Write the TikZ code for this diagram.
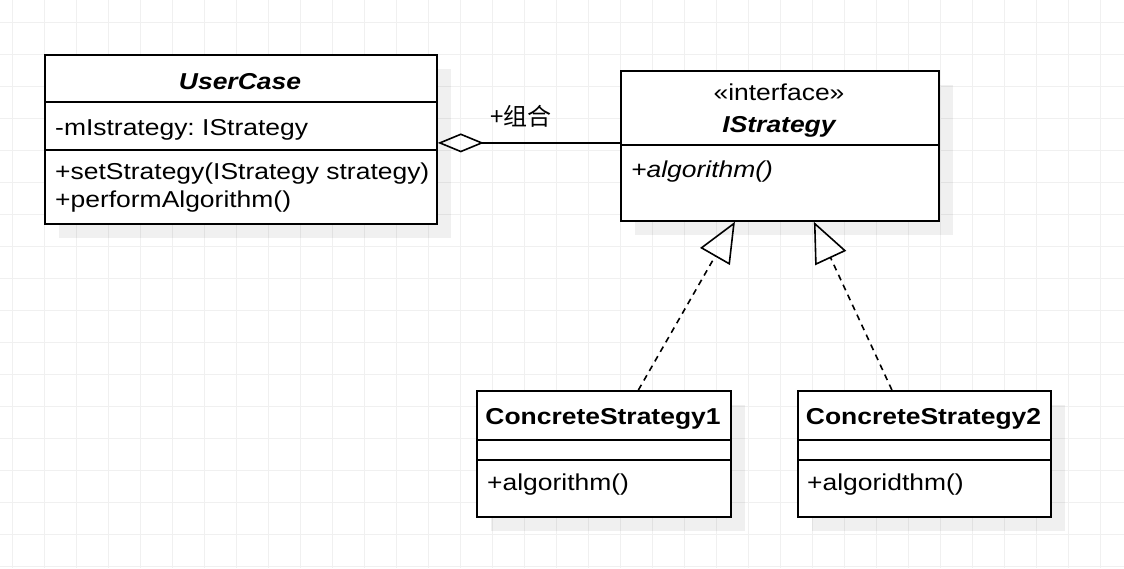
\documentclass[tikz,border=0pt]{standalone}
\usepackage{fontspec}
\setmainfont{Liberation Sans}[FakeStretch=1.15]
\newfontfamily\cjk{Noto Sans CJK SC}
\usetikzlibrary{
    arrows.meta,
    shadows,
    positioning
}
\frenchspacing
\newcommand{\umlfont}{\fontsize{23}{28}\selectfont}
\tikzset{umlbox/.style={draw=black, line width=1.8pt, fill=white, anchor=north west, inner sep=0pt, drop shadow={shadow xshift=14pt, shadow yshift=-14pt, fill=black, opacity=0.06}}}
\tikzset{umltxt/.style={inner sep=0pt, anchor=base west, font=\umlfont}}
\tikzset{umlital/.style={inner sep=0pt, anchor=base west, font=\umlfont\itshape}}
\tikzset{umlname/.style={inner sep=0pt, anchor=base, font=\umlfont\bfseries}}
\tikzset{umlabstract/.style={inner sep=0pt, anchor=base, font=\umlfont\bfseries\itshape}}
\tikzset{realize/.style={line width=1.6pt, dash pattern=on 6pt off 5pt, -{Triangle[open, length=40pt, width=34pt]}}}
\tikzset{aggregate/.style={line width=1.6pt, -{Diamond[open, length=46pt, width=19pt]}}}

\begin{document}
\begin{tikzpicture}[x=1pt, y=-1pt]
                        \fill[white] (0,0) rectangle (1124,568);
                        \useasboundingbox (0,0) rectangle (1124,568);
                        \foreach \gx in {12,44,...,1124}
                            \draw[black!6, line width=0.8pt] (\gx,0) -- (\gx,568);
                        \foreach \gy in {22,54,...,568}
                            \draw[black!6, line width=0.8pt] (0,\gy) -- (1124,\gy);
                        % classes
                        \node[umlbox, minimum width=392pt, minimum height=169pt] (ucase) at (44,54) {};
                        \node[umlbox, minimum width=318pt, minimum height=150pt] (istr) at (620,70) {};
                        \node[umlbox, minimum width=254pt, minimum height=126pt] (cs1) at (476,390) {};
                        \node[umlbox, minimum width=253pt, minimum height=126pt] (cs2) at (797,390) {};
                        \draw[line width=1.8pt]
                        (44,102) -- (436,102)
                        (44,150) -- (436,150)
                        (620,145) -- (938,145)
                        (476,440) -- (730,440)
                        (476,460) -- (730,460)
                        (797,440) -- (1050,440)
                        (797,460) -- (1050,460);
                        \node[umlabstract] (ucasename) at (240,89) {UserCase};
                        \node[umltxt] (ucaseattr) at (55,135) {-mIstrategy: IStrategy};
                        \node[umltxt] (ucaseop1) at (55,179) {+setStrategy(IStrategy strategy)};
                        \node[umltxt] (ucaseop2) at (55,207) {+performAlgorithm()};
                        \node[inner sep=0pt, anchor=base, font=\umlfont] (istrstereo) at (779,100) {«interface»};
                        \node[umlabstract] (istrname) at (779,132) {IStrategy};
                        \node[umlital] (istrop) at (631,177) {+algorithm()};
                        \node[umlname] (cs1name) at (603,424) {ConcreteStrategy1};
                        \node[umltxt] (cs1op) at (487,490) {+algorithm()};
                        \node[umlname] (cs2name) at (923.5,424) {ConcreteStrategy2};
                        \node[umltxt] (cs2op) at (807,490) {+algoridthm()};
                        % relations
                        \draw[aggregate] ([yshift=3pt]istr.west) -- ([yshift=-3.5pt]ucase.east);
                        \node[inner sep=0pt, anchor=base west, font=\fontsize{24}{28}\selectfont\cjk] (aggrlbl) at (490,125) {+组合};
                        \draw[realize] ([xshift=34.5pt]cs1.north) -- ([xshift=-45pt]istr.south);
                        \draw[realize] ([xshift=-32.5pt]cs2.north) -- ([xshift=34pt]istr.south);
                    \end{tikzpicture}
\end{document}
